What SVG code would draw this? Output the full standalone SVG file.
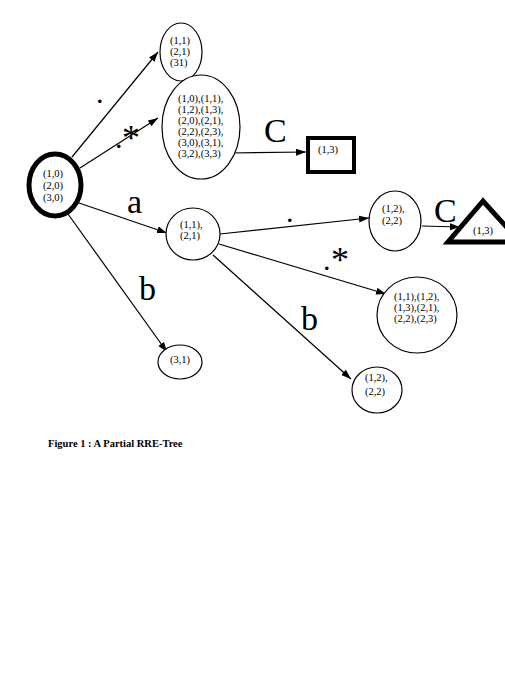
<svg xmlns="http://www.w3.org/2000/svg" width="505" height="686" viewBox="0 0 505 686">
<style>
.n{fill:#fff;stroke:#000;stroke-width:1.2}
.t{font-family:"Liberation Serif","Times New Roman",serif;font-size:10.5px;fill:#000}
.big{font-family:"Liberation Serif","Times New Roman",serif;font-size:34px;fill:#000}
.ast{font-family:"Liberation Serif","Times New Roman",serif;font-size:36px;fill:#000}
.dot{font-family:"Liberation Serif","Times New Roman",serif;font-size:30px;fill:#000}
.e{fill:none;stroke:#000;stroke-width:1.2;marker-end:url(#ah)}
</style>
<defs>
<marker id="ah" markerUnits="userSpaceOnUse" markerWidth="11" markerHeight="8" refX="10" refY="3.5" orient="auto">
<path d="M0,0 L10,3.5 L0,7 z" fill="#000"/>
</marker>
</defs>
<rect width="505" height="686" fill="#fff"/>
<g id="connectors">
<line class="e" x1="72" y1="157" x2="158" y2="52"/>
<line class="e" x1="80" y1="168" x2="158" y2="118"/>
<line class="e" x1="79" y1="203" x2="167" y2="233"/>
<line class="e" x1="68" y1="214" x2="167" y2="352"/>
<line class="e" x1="229" y1="153" x2="306" y2="152"/>
<line class="e" x1="220" y1="234" x2="369" y2="218"/>
<line class="e" x1="219" y1="244" x2="386" y2="294"/>
<line class="e" x1="213" y1="255" x2="351" y2="379"/>
<line class="e" x1="422" y1="226" x2="460" y2="227"/>
<text class="dot" x="96" y="103">.</text>
<text class="ast" x="122" y="150">*</text>
<text class="dot" x="115" y="148">.</text>
<text class="big" x="127" y="213">a</text>
<text class="big" x="139" y="300">b</text>
<text class="big" x="264" y="142">C</text>
<text class="dot" x="286" y="222">.</text>
<text class="ast" x="331" y="272">*</text>
<text class="dot" x="323" y="270">.</text>
<text class="big" x="301" y="330">b</text>
<text class="big" x="434" y="222">C</text>
</g>
<g id="root">
<ellipse cx="55" cy="185" rx="26" ry="31" fill="#fff" stroke="#000" stroke-width="5"/>
<text class="t" x="43" y="177">(1,0)</text>
<text class="t" x="43" y="189">(2,0)</text>
<text class="t" x="43" y="201">(3,0)</text>
</g>
<g id="n11">
<ellipse class="n" cx="181" cy="52" rx="21" ry="29"/>
<text class="t" x="170" y="44">(1,1)</text>
<text class="t" x="170" y="55">(2,1)</text>
<text class="t" x="170" y="66">(31)</text>
</g>
<g id="nstar">
<ellipse class="n" cx="201" cy="127" rx="39" ry="52"/>
<text class="t" x="178" y="102">(1,0),(1,1),</text>
<text class="t" x="178" y="113">(1,2),(1,3),</text>
<text class="t" x="178" y="124">(2,0),(2,1),</text>
<text class="t" x="178" y="135">(2,2),(2,3),</text>
<text class="t" x="178" y="146">(3,0),(3,1),</text>
<text class="t" x="178" y="157">(3,2),(3,3)</text>
</g>
<g id="square">
<rect x="308" y="138" width="46" height="34" fill="#fff" stroke="#000" stroke-width="4"/>
<text class="t" x="318" y="153">(1,3)</text>
</g>
<g id="na">
<ellipse class="n" cx="193" cy="234" rx="27" ry="26"/>
<text class="t" x="180" y="228">(1,1),</text>
<text class="t" x="180" y="239">(2,1)</text>
</g>
<g id="nb">
<ellipse class="n" cx="180" cy="362" rx="22" ry="17"/>
<text class="t" x="170" y="363">(3,1)</text>
</g>
<g id="nadot">
<ellipse class="n" cx="395" cy="221" rx="26" ry="30"/>
<text class="t" x="382" y="212">(1,2),</text>
<text class="t" x="382" y="224">(2,2)</text>
</g>
<g id="triangle">
<polygon points="483,201 448,242 520,242" fill="#fff" stroke="#000" stroke-width="5" stroke-linejoin="miter"/>
<text class="t" x="473" y="234">(1,3)</text>
</g>
<g id="nastar">
<ellipse class="n" cx="417" cy="315" rx="40" ry="38"/>
<text class="t" x="394" y="300">(1,1),(1,2),</text>
<text class="t" x="394" y="311">(1,3),(2,1),</text>
<text class="t" x="394" y="322">(2,2),(2,3)</text>
</g>
<g id="nab">
<ellipse class="n" cx="377" cy="390" rx="25" ry="23"/>
<text class="t" x="365" y="381">(1,2),</text>
<text class="t" x="365" y="395">(2,2)</text>
</g>
<text x="48" y="447" font-family="Liberation Serif,Times New Roman,serif" font-size="10.5" font-weight="bold">Figure 1 : A Partial RRE-Tree</text>
</svg>
